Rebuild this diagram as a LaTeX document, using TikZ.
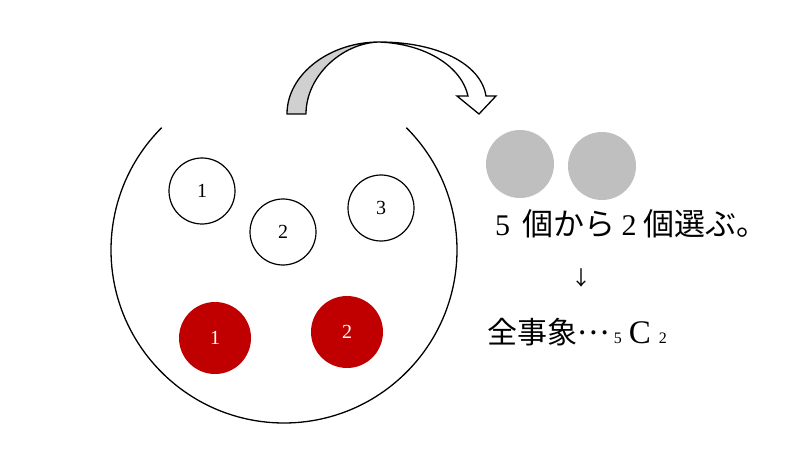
\documentclass[tikz,border=0pt]{standalone}
\usepackage{fontspec}
\setmainfont{Liberation Serif}
\newfontfamily\cjk{Noto Sans CJK JP}
\definecolor{ballred}{HTML}{C00000}
\definecolor{ballgrey}{HTML}{BFBFBF}
\definecolor{arrowgrey}{HTML}{D0D0D0}
\begin{document}
\begin{tikzpicture}[x=1pt,y=-1pt,
  whiteball/.style={circle,draw=black,line width=1.2pt,fill=white,minimum size=66pt,inner sep=0pt,font=\fontsize{20}{20}\selectfont},
  redball/.style={circle,fill=ballred,text=white,minimum size=72pt,inner sep=0pt,font=\fontsize{20}{20}\selectfont},
  greyball/.style={circle,fill=ballgrey,minimum size=68pt,inner sep=0pt},
  txt/.style={anchor=base west,inner sep=0pt}]
\useasboundingbox (0,0) rectangle (800,449);
% big bag
\coordinate (bagc) at (284,250);
\draw[line width=1.3pt] (bagc) ++(-45:173) arc[start angle=-45,end angle=225,radius=173];
% balls in bag
\node[whiteball] (w1) at (202,191) {1};
\node[whiteball] (w2) at (283,232) {2};
\node[whiteball] (w3) at (381,208) {3};
\node[redball] (r1) at (215,338) {1};
\node[redball] (r2) at (347,332) {2};
% curved arrow
\coordinate (A) at (287,114);
\coordinate (B) at (306,114);
\coordinate (T) at (379,42);
\coordinate (H1) at (486,96);
\coordinate (H2) at (496,96);
\coordinate (Tip) at (479,114);
\coordinate (H3) at (457,96);
\coordinate (H4) at (468,96);
\draw[line width=1.3pt,line join=round,fill=arrowgrey]
  (A) .. controls (287,74) and (330,42) .. (T)
  .. controls (342,43) and (306,76) .. (B) -- cycle;
\draw[line width=1.3pt,line join=miter,fill=white]
  (T) .. controls (438,42) and (481,64) .. (H1) -- (H2) -- (Tip) -- (H3) -- (H4)
  .. controls (462,68) and (428,44) .. (T) -- cycle;
% chosen balls
\node[greyball] (g1) at (520,164) {};
\node[greyball] (g2) at (602,166) {};
% texts
\node[txt,font=\fontsize{30}{30}\selectfont] (t1) at (495,235)
  {\makebox[27pt][l]{5}{\cjk\fontsize{31}{31}\selectfont 個から}\makebox[28pt][c]{2}{\cjk\fontsize{31}{31}\selectfont 個選ぶ。}};
\node[font=\cjk\fontsize{20}{20}\selectfont,inner sep=0pt] (dn) at (581,278) {↓};
\node[txt,font=\fontsize{30}{30}\selectfont] (t2) at (487,343)
  {{\cjk 全事象\raisebox{0.3em}{…}}\hspace{5pt}{\fontsize{16}{16}\selectfont 5}\hspace{7pt}{\fontsize{33}{33}\selectfont C}\hspace{8pt}{\fontsize{16}{16}\selectfont 2}};
\end{tikzpicture}
\end{document}
